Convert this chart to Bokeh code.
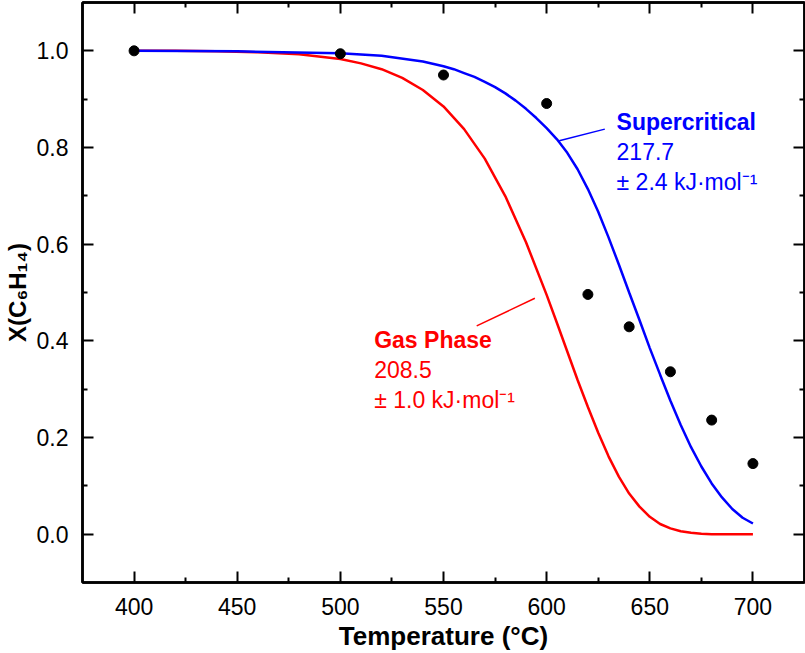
from bokeh.plotting import figure
from bokeh.models import Range1d, FixedTicker, LinearAxis, Label, PrintfTickFormatter
from bokeh.embed import file_html
from bokeh.resources import INLINE

# Measured hexane conversion
temp_measured = [400, 500, 550, 600, 620, 640, 660, 680, 700]
conv_measured = [1.000, 0.994, 0.950, 0.891, 0.496, 0.429, 0.336, 0.236, 0.146]

# Kinetic fit, gas phase (Ea = 208.5 kJ/mol)
temp_gas = [400, 420, 440, 460, 480, 500, 510, 520, 530, 540, 550, 560, 570, 580,
            590, 600, 605, 610, 615, 620, 625, 630, 635, 640, 645, 650, 655, 660,
            665, 670, 675, 680, 690, 700]
conv_gas = [1.000, 1.000, 0.999, 0.997, 0.993, 0.983, 0.974, 0.962, 0.944, 0.919,
            0.885, 0.838, 0.777, 0.699, 0.604, 0.495, 0.437, 0.378, 0.319, 0.263,
            0.210, 0.161, 0.119, 0.084, 0.057, 0.036, 0.021, 0.012, 0.006, 0.003,
            0.001, 0.000, 0.000, 0.000]

# Kinetic fit, supercritical (Ea = 217.7 kJ/mol)
temp_sc = [400, 450, 500, 520, 540, 550, 555, 560, 565, 570, 575, 580, 585, 590,
           595, 600, 605, 610, 615, 620, 625, 630, 635, 640, 645, 650, 655, 660,
           665, 670, 675, 680, 685, 690, 695, 700]
conv_sc = [1.000, 0.999, 0.995, 0.990, 0.978, 0.968, 0.962, 0.954, 0.946, 0.936,
           0.925, 0.912, 0.897, 0.880, 0.861, 0.840, 0.817, 0.789, 0.755, 0.714,
           0.667, 0.614, 0.558, 0.500, 0.443, 0.385, 0.330, 0.276, 0.226, 0.180,
           0.140, 0.105, 0.076, 0.052, 0.034, 0.022]

x_ticks = [400, 450, 500, 550, 600, 650, 700]
x_minor = [425, 475, 525, 575, 625, 675]
y_ticks = [0.0, 0.2, 0.4, 0.6, 0.8, 1.0]
y_minor = [0.1, 0.3, 0.5, 0.7, 0.9]

FONT = "Liberation Sans"
RED = "#ff0000"
BLUE = "#0000ff"

p = figure(width=805, height=653,
           x_range=Range1d(375, 725), y_range=Range1d(-0.1, 1.1),
           output_backend="svg", toolbar_location=None,
           min_border_left=82, min_border_right=1,
           min_border_top=2, min_border_bottom=71,
           x_axis_label="Temperature (°C)", y_axis_label="X(C₆H₁₄)")
p.xgrid.visible = False
p.ygrid.visible = False
p.outline_line_color = "black"
p.outline_line_width = 2.5
p.background_fill_color = "white"
p.border_fill_color = "white"


def style_axis(ax, ticks, minor):
    ax.ticker = FixedTicker(ticks=ticks, minor_ticks=minor)
    ax.major_tick_in = 11
    ax.major_tick_out = 0
    ax.minor_tick_in = 5
    ax.minor_tick_out = 0
    ax.major_tick_line_width = 2
    ax.minor_tick_line_width = 2
    ax.axis_line_width = 2.5
    ax.major_label_text_font = FONT
    ax.major_label_text_font_size = "23px"
    ax.major_label_text_color = "black"
    ax.axis_label_text_font = FONT
    ax.axis_label_text_font_style = "bold"
    ax.axis_label_text_color = "black"


xax = p.xaxis[0]
yax = p.yaxis[0]
style_axis(xax, x_ticks, x_minor)
style_axis(yax, y_ticks, y_minor)
yax.formatter = PrintfTickFormatter(format="%.1f")
xax.major_label_standoff = 15
xax.axis_label_text_font_size = "26px"
xax.axis_label_standoff = 3
yax.major_label_standoff = 14
yax.axis_label_text_font_size = "24px"
yax.axis_label_standoff = 3

# mirrored ticks on top and right edges, without labels
top = LinearAxis()
right = LinearAxis()
style_axis(top, x_ticks, x_minor)
style_axis(right, y_ticks, y_minor)
for ax in (top, right):
    ax.major_label_text_font_size = "1px"
    ax.major_label_text_color = None
    ax.major_label_standoff = 0
p.add_layout(top, "above")
p.add_layout(right, "right")

# fitted curves
p.line(temp_gas, conv_gas, line_color=RED, line_width=2.5)
p.line(temp_sc, conv_sc, line_color=BLUE, line_width=2.5)

# leader lines to the curve annotations
p.segment(x0=[606.1], y0=[0.814], x1=[628.2], y1=[0.838], line_color=BLUE, line_width=1.5)
p.segment(x0=[566.1], y0=[0.431], x1=[594.3], y1=[0.488], line_color=RED, line_width=1.5)

# measured points
p.scatter(temp_measured, conv_measured, size=10, color="black")


def annotate(x, y, lines, color):
    for i, (txt, style) in enumerate(lines):
        p.add_layout(Label(x=x, y=y, y_offset=-30 * i, text=txt,
                           text_font=FONT, text_font_size="23px",
                           text_font_style=style, text_color=color,
                           text_baseline="alphabetic", text_align="left"))


annotate(633.9, 0.8530, [("Supercritical", "bold"), ("217.7", "normal"),
                         ("± 2.4 kJ·mol⁻¹", "normal")], BLUE)
annotate(516.4, 0.402, [("Gas Phase", "bold"), ("208.5", "normal"),
                        ("± 1.0 kJ·mol⁻¹", "normal")], RED)

with open("out.html", "w") as f:
    f.write(file_html(p, INLINE))
